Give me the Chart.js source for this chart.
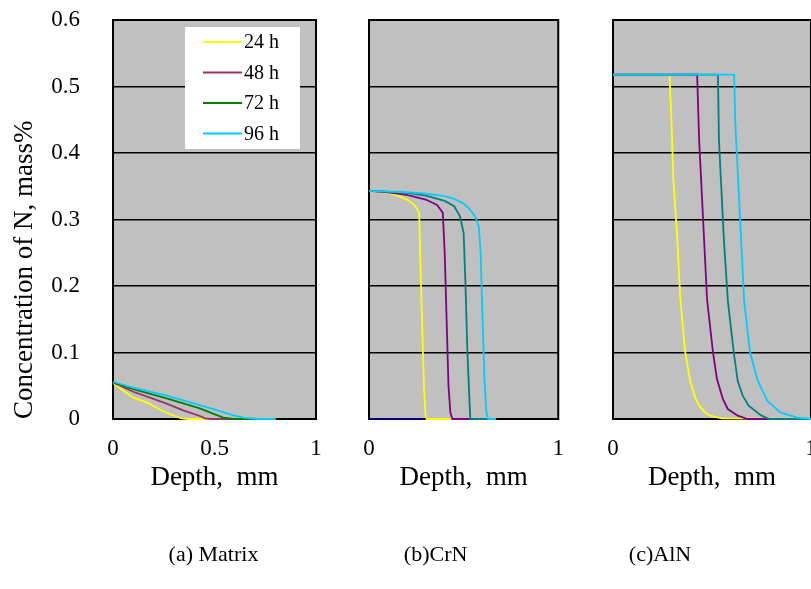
<!DOCTYPE html>
<html>
<head>
<meta charset="utf-8">
<script src="https://cdn.jsdelivr.net/npm/chart.js@4/dist/chart.umd.min.js"></script>
<style>
  html, body { margin: 0; padding: 0; background: #fff; overflow: hidden; }
  #wrap { position: relative; width: 811px; height: 589px; overflow: hidden; }
  #wrap canvas { position: absolute; top: 0; }
</style>
</head>
<body>
<div id="wrap">
  <canvas id="chartA" style="left:0px" width="340" height="589"></canvas>
  <canvas id="chartB" style="left:340px" width="240" height="589"></canvas>
  <canvas id="chartC" style="left:580px" width="260" height="589"></canvas>
</div>
<script>
const seriesLabels = ["24 h", "48 h", "72 h", "96 h"];
const yTicks = [0, 0.1, 0.2, 0.3, 0.4, 0.5, 0.6];
const xTicksMatrix = [0, 0.5, 1];
const xTicksNitride = [0, 1];

// (a) Matrix
const matrixDepth24 = [0, 0.05, 0.1, 0.166, 0.215, 0.264, 0.305, 0.338, 0.37, 0.8];
const matrixConc24 = [0.054, 0.043, 0.032, 0.025, 0.017, 0.0095, 0.0045, 0.001, 0, 0];
const matrixDepth48 = [0, 0.1, 0.182, 0.264, 0.346, 0.428, 0.453, 0.48, 0.8];
const matrixConc48 = [0.055, 0.041, 0.032, 0.023, 0.013, 0.0045, 0.001, 0, 0];
const matrixDepth72 = [0, 0.1, 0.264, 0.428, 0.502, 0.543, 0.59, 0.8];
const matrixConc72 = [0.055, 0.045, 0.031, 0.016, 0.007, 0.002, 0, 0];
const matrixDepth96 = [0, 0.1, 0.264, 0.428, 0.527, 0.593, 0.643, 0.709, 0.8];
const matrixConc96 = [0.056, 0.047, 0.035, 0.021, 0.012, 0.0055, 0.002, 0, 0];

// (b) CrN
const crnDepth0 = [0, 0.3];
const crnConc0 = [0, 0];
const crnDepth24 = [0, 0.05, 0.1, 0.15, 0.2, 0.24, 0.265, 0.27, 0.28, 0.29, 0.3, 0.67];
const crnConc24 = [0.343, 0.342, 0.34, 0.336, 0.33, 0.322, 0.31, 0.25, 0.15, 0.05, 0, 0];
const crnDepth48 = [0, 0.1, 0.2, 0.3, 0.36, 0.39, 0.4, 0.41, 0.42, 0.43, 0.44, 0.67];
const crnConc48 = [0.343, 0.341, 0.337, 0.33, 0.322, 0.31, 0.25, 0.15, 0.05, 0.01, 0, 0];
const crnDepth72 = [0, 0.1, 0.2, 0.3, 0.4, 0.45, 0.48, 0.5, 0.51, 0.52, 0.535, 0.67];
const crnConc72 = [0.343, 0.342, 0.34, 0.336, 0.328, 0.32, 0.305, 0.28, 0.2, 0.1, 0, 0];
const crnDepth96 = [0, 0.1, 0.2, 0.3, 0.4, 0.45, 0.5, 0.53, 0.56, 0.58, 0.59, 0.6, 0.61, 0.62, 0.63, 0.67];
const crnConc96 = [0.343, 0.342, 0.341, 0.339, 0.335, 0.331, 0.324, 0.316, 0.305, 0.29, 0.25, 0.15, 0.06, 0.01, 0, 0];

// (c) AlN
const alnDepth24 = [0, 0.285, 0.295, 0.305, 0.325, 0.34, 0.365, 0.39, 0.415, 0.435, 0.465, 0.49, 0.55, 1];
const alnConc24 = [0.518, 0.518, 0.45, 0.36, 0.27, 0.18, 0.1, 0.057, 0.033, 0.02, 0.01, 0.005, 0.001, 0];
const alnDepth48 = [0, 0.425, 0.435, 0.445, 0.46, 0.475, 0.505, 0.525, 0.555, 0.58, 0.63, 0.68, 1];
const alnConc48 = [0.518, 0.518, 0.42, 0.36, 0.27, 0.18, 0.1, 0.06, 0.03, 0.015, 0.005, 0, 0];
const alnDepth72 = [0, 0.53, 0.535, 0.545, 0.56, 0.58, 0.61, 0.63, 0.655, 0.685, 0.75, 0.79, 1];
const alnConc72 = [0.518, 0.518, 0.42, 0.36, 0.27, 0.178, 0.1, 0.057, 0.035, 0.02, 0.005, 0, 0];
const alnDepth96 = [0, 0.612, 0.617, 0.632, 0.647, 0.662, 0.692, 0.732, 0.78, 0.845, 0.93, 1];
const alnConc96 = [0.518, 0.518, 0.45, 0.36, 0.27, 0.178, 0.1, 0.057, 0.027, 0.01, 0.002, 0];

const matrixColors = ["#ffff00", "#993366", "#008000", "#00ccff"];
const nitrideColors = ["#ffff00", "#800080", "#008080", "#00ccff"];

const FONT = "'Liberation Serif', 'Times New Roman', serif";

function makeSets(depths, concs, colors) {
  return depths.map((d, i) => ({
    label: seriesLabels[i],
    data: d.map((x, j) => ({ x: x, y: concs[i][j] })),
    borderColor: colors[i],
    borderWidth: 1.8,
    pointRadius: 0,
    tension: 0,
    clip: false,
    order: 4 - i, // later series on top
  }));
}

// grey plot box, black frame, caption under the axis, and the inset legend
const panelDeco = {
  id: "panelDeco",
  beforeDraw(chart) {
    const a = chart.chartArea;
    const ctx = chart.ctx;
    ctx.save();
    ctx.fillStyle = "#c0c0c0";
    ctx.fillRect(a.left, a.top, a.right - a.left, a.bottom - a.top);
    ctx.restore();
  },
  beforeDatasetsDraw(chart) {
    const a = chart.chartArea;
    const ctx = chart.ctx;
    ctx.save();
    ctx.strokeStyle = "#000";
    ctx.lineWidth = 2;
    ctx.strokeRect(a.left, a.top, a.right - a.left, a.bottom - a.top);
    ctx.restore();
  },
  afterDraw(chart, args, opts) {
    const a = chart.chartArea;
    const ctx = chart.ctx;
    ctx.save();
    ctx.fillStyle = "#000";
    ctx.font = "22px " + FONT;
    ctx.textAlign = "center";
    ctx.textBaseline = "middle";
    ctx.fillText(opts.caption, (a.left + a.right) / 2 + opts.dx, 555);

    if (opts.legend) {
      const bx = a.right - 131;
      const by = a.top + 7;
      ctx.font = "20px " + FONT;
      ctx.fillStyle = "#fff";
      ctx.fillRect(bx, by, 115, 122);
      ctx.textAlign = "left";
      chart.data.datasets.slice(0, 4).forEach((ds, i) => {
        const y = by + 15 + i * 30.5;
        ctx.strokeStyle = ds.borderColor;
        ctx.lineWidth = 1.8;
        ctx.beginPath();
        ctx.moveTo(bx + 18, y);
        ctx.lineTo(bx + 57, y);
        ctx.stroke();
        ctx.fillStyle = "#000";
        ctx.fillText(ds.label, bx + 59, y + 1);
      });
    }
    ctx.restore();
  },
};

function makeScales(xTicks, yWidth, showY) {
  return {
    x: {
      type: "linear",
      min: 0,
      max: 1,
      afterBuildTicks: (s) => { s.ticks = xTicks.map((v) => ({ value: v })); },
      afterFit: (s) => { s.height = 75; },
      grid: { display: false, drawTicks: false },
      border: { display: false },
      ticks: {
        color: "#000",
        font: { family: FONT, size: 23 },
        padding: 16,
        maxRotation: 0,
        autoSkip: false,
        callback: (v) => String(v),
      },
      title: {
        display: true,
        text: "Depth,  mm",
        color: "#000",
        font: { family: FONT, size: 27 },
        padding: { top: 0, bottom: 0 },
      },
    },
    y: {
      type: "linear",
      min: 0,
      max: 0.6,
      afterBuildTicks: (s) => { s.ticks = yTicks.map((v) => ({ value: v })); },
      afterFit: (s) => {
        s.width = yWidth;
        s.paddingTop = 0;
        s.paddingBottom = 0;
      },
      grid: { color: "#000", lineWidth: 1.5, drawTicks: false },
      border: { display: false },
      ticks: {
        display: showY,
        color: "#000",
        font: { family: FONT, size: 23 },
        padding: 33,
        callback: (v) => String(v),
      },
      title: {
        display: showY,
        text: "Concentration of N, mass%",
        align: "start",
        color: "#000",
        font: { family: FONT, size: 27 },
        padding: { top: 9, bottom: 0 },
      },
    },
  };
}

function makeChart(id, datasets, xTicks, yWidth, showY, padRight, caption, dx, legend) {
  return new Chart(document.getElementById(id), {
    type: "line",
    data: { datasets: datasets },
    options: {
      responsive: false,
      animation: false,
      layout: { padding: { left: 0, right: padRight, top: 20, bottom: 95 } },
      scales: makeScales(xTicks, yWidth, showY),
      plugins: {
        legend: { display: false },
        tooltip: { enabled: false },
        panelDeco: { caption: caption, dx: dx, legend: legend },
      },
    },
    plugins: [panelDeco],
  });
}

const matrixSets = makeSets(
  [matrixDepth24, matrixDepth48, matrixDepth72, matrixDepth96],
  [matrixConc24, matrixConc48, matrixConc72, matrixConc96],
  matrixColors
);
const crnSets = makeSets(
  [crnDepth24, crnDepth48, crnDepth72, crnDepth96],
  [crnConc24, crnConc48, crnConc72, crnConc96],
  nitrideColors
);
crnSets.push({
  label: "0 h",
  data: crnDepth0.map((x, j) => ({ x: x, y: crnConc0[j] })),
  borderColor: "#000080",
  borderWidth: 1.8,
  pointRadius: 0,
  clip: false,
  order: 0,
});
const alnSets = makeSets(
  [alnDepth24, alnDepth48, alnDepth72, alnDepth96],
  [alnConc24, alnConc48, alnConc72, alnConc96],
  nitrideColors
);

makeChart("chartA", matrixSets, xTicksMatrix, 113, true, 24, "(a) Matrix", -1, true);
makeChart("chartB", crnSets, xTicksNitride, 29, false, 19, "(b)CrN", -28, false);
makeChart("chartC", alnSets, xTicksNitride, 33, false, 29, "(c)AlN", -52, false);
</script>
</body>
</html>
